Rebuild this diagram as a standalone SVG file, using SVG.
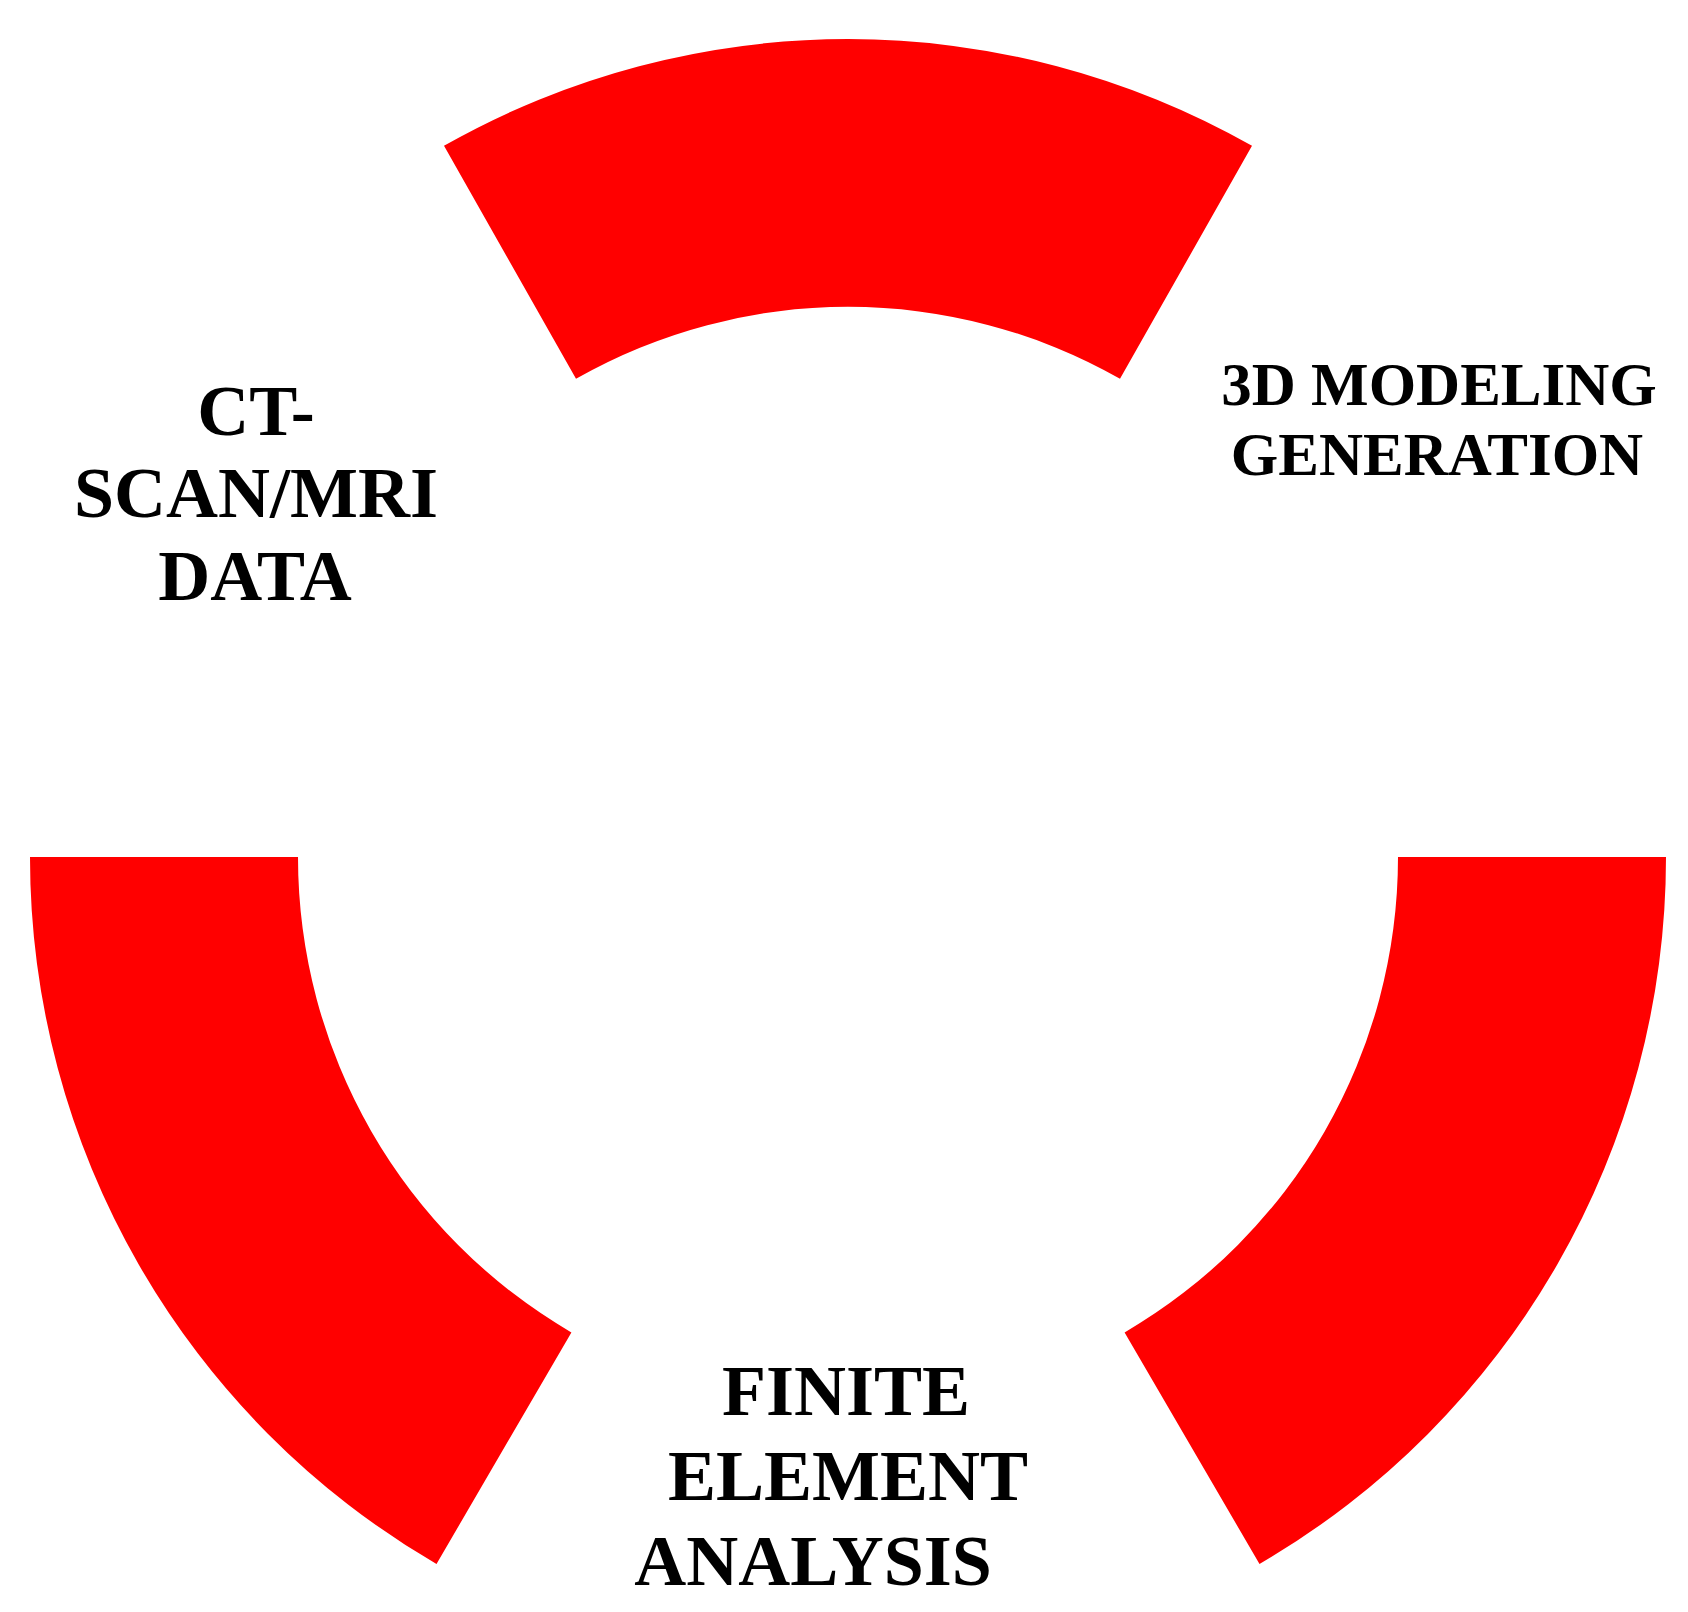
<svg xmlns="http://www.w3.org/2000/svg" width="1688" height="1612" viewBox="0 0 1688 1612">
<style>
.seg{fill:#ff0000;stroke:none}
.lbl{font-family:"Liberation Serif","Times New Roman",serif;font-weight:bold;fill:#000;text-anchor:middle}
</style>
<rect width="1688" height="1612" fill="#ffffff"/>
<g id="ring">
<path id="seg-top" class="seg" d="M 444 145.8 A 818 818 0 0 1 1252 145.8 L 1120 378.8 A 550 550 0 0 0 576 378.8 Z"/>
<path id="seg-left" class="seg" d="M 30 857 A 818 818 0 0 0 436.5 1564 L 571.4 1332.4 A 550 550 0 0 1 298 857 Z"/>
<path id="seg-right" class="seg" d="M 1666 857 A 818 818 0 0 1 1259.5 1564 L 1124.6 1332.4 A 550 550 0 0 0 1398 857 Z"/>
</g>
<g id="node-ct">
<text class="lbl" font-size="72" x="256" y="435">CT-</text>
<text class="lbl" font-size="72" x="256" y="517">SCAN/MRI</text>
<text class="lbl" font-size="72" x="255" y="600">DATA</text>
</g>
<g id="node-3d">
<text class="lbl" font-size="61" x="1439" y="405">3D MODELING</text>
<text class="lbl" font-size="61" x="1437" y="475">GENERATION</text>
</g>
<g id="node-fea">
<text class="lbl" font-size="72" x="846" y="1415">FINITE</text>
<text class="lbl" font-size="72" x="848" y="1500">ELEMENT</text>
<text class="lbl" font-size="72" x="813" y="1585">ANALYSIS</text>
</g>
</svg>
